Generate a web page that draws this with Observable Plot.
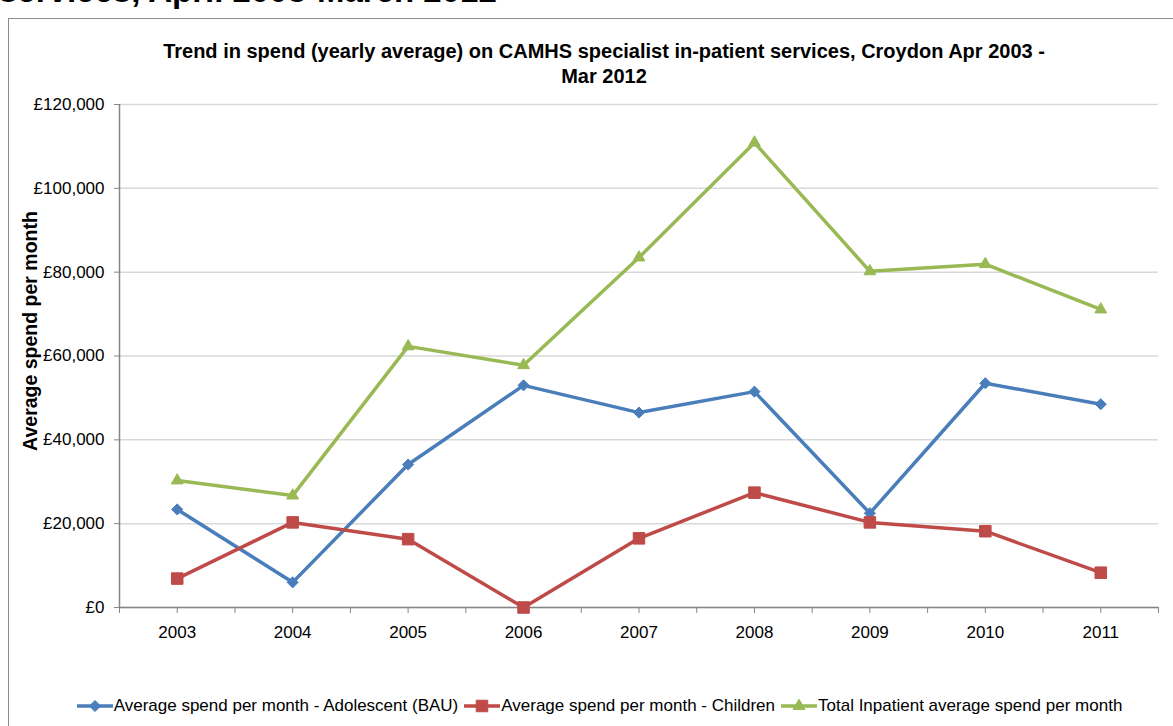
<!DOCTYPE html>
<html>
<head>
<meta charset="utf-8">
<script src="https://cdn.jsdelivr.net/npm/d3@7"></script>
<script src="https://cdn.jsdelivr.net/npm/@observablehq/plot@0.6"></script>
<style>
  html, body { margin: 0; padding: 0; background: #fff; width: 1173px; height: 726px; overflow: hidden; }
  body { font-family: "Liberation Sans", Arial, sans-serif; position: relative; }
  #heading { position: absolute; left: -1px; top: -28px; font-size: 33px; font-weight: bold; white-space: nowrap; color: #000; }
  #box { position: absolute; left: 8px; top: 18px; width: 1300px; height: 800px; border: 1px solid #8c8c8c; }
  #title { position: absolute; left: 0; width: 1208px; top: 39px; text-align: center; font-size: 20px; font-weight: bold; line-height: 25px; color: #000; }
  #ylabel { position: absolute; left: 30px; top: 331px; transform: translate(-50%, -50%) rotate(-90deg); font-size: 19.5px; font-weight: bold; white-space: nowrap; color: #000; }
  #chart { position: absolute; left: 0; top: 0; }
  #legend { position: absolute; top: 696px; left: 0; width: 1199px; display: flex; justify-content: center; font-size: 17px; color: #000; white-space: nowrap; }
  .item { display: flex; align-items: center; margin: 0 3px; }
  .item svg { margin-right: 1px; }
</style>
</head>
<body>
<div id="box"></div>
<div id="heading">services, April 2003-March 2012</div>
<div id="title">Trend in spend (yearly average) on CAMHS specialist in-patient services, Croydon Apr 2003 -<br>Mar 2012</div>
<div id="chart"></div>
<div id="ylabel">Average spend per month</div>
<div id="legend"></div>
<script>
const years = [2003, 2004, 2005, 2006, 2007, 2008, 2009, 2010, 2011];
const adolescent = [23400, 6000, 34100, 53000, 46500, 51500, 22500, 53500, 48500];
const children = [6900, 20300, 16300, 0, 16500, 27400, 20300, 18200, 8300];
const total = [30300, 26700, 62300, 57800, 83500, 110900, 80200, 81900, 71100];
const yTicks = [0, 20000, 40000, 60000, 80000, 100000, 120000];
const seriesNames = [
  "Average spend per month - Adolescent (BAU)",
  "Average spend per month - Children",
  "Total Inpatient average spend per month"
];
const seriesColors = ["#4A7EBB", "#BE4B48", "#98B954"];
const seriesSymbols = ["diamond2", "square", "triangle"];
const seriesR = [5, 6.5, 4.4];

const seriesValues = [adolescent, children, total];
const rows = [];
seriesValues.forEach((vals, i) => {
  vals.forEach((v, j) => rows.push({series: seriesNames[i], year: years[j], value: v, idx: i}));
});
const boundaries = d3.range(years.length + 1).map(i => years[0] - 0.5 + i);
const fmt = d => "£" + d3.format(",")(d);

const marks = [
  Plot.gridY(yTicks, {stroke: "#d9d9d9", strokeOpacity: 1, strokeWidth: 1.5}),
  Plot.axisY(yTicks, {tickSize: 5, tickPadding: 10, tickFormat: fmt, fontSize: 17, stroke: "#868686", fill: "#000", label: null}),
  Plot.axisX(years, {tickSize: 6, tickPadding: 12, tickFormat: d => String(d), fontSize: 17, stroke: "#868686", fill: "#000", label: null}),
  Plot.axisX(boundaries, {tickSize: 6, tickFormat: () => "", stroke: "#868686", label: null}),
  Plot.ruleX([boundaries[0]], {stroke: "#868686", strokeWidth: 1.5}),
  Plot.ruleY([0], {stroke: "#868686", strokeWidth: 1.5})
];
seriesNames.forEach((name, i) => {
  const data = rows.filter(r => r.idx === i);
  marks.push(Plot.line(data, {x: "year", y: "value", stroke: seriesColors[i], strokeWidth: 3.5, strokeLinejoin: "round"}));
});
seriesNames.forEach((name, i) => {
  const data = rows.filter(r => r.idx === i);
  marks.push(Plot.dot(data, {x: "year", y: "value", symbol: () => seriesSymbols[i], r: seriesR[i], fill: seriesColors[i], stroke: seriesColors[i], strokeWidth: 1}));
});

const chart = Plot.plot({
  width: 1173,
  height: 726,
  marginLeft: 119,
  marginRight: 15,
  marginTop: 104,
  marginBottom: 119,
  style: {fontFamily: "'Liberation Sans', Arial, sans-serif", fontSize: "17px", background: "transparent", color: "#000"},
  x: {type: "linear", domain: [boundaries[0], boundaries[boundaries.length - 1]]},
  y: {domain: [0, 120000]},
  symbol: {type: "identity"},
  marks
});
document.getElementById("chart").appendChild(chart);

const legend = document.getElementById("legend");
const symPath = {
  diamond2: d3.symbol(d3.symbolDiamond2, Math.PI * 25)(),
  square: d3.symbol(d3.symbolSquare, Math.PI * 6.5 * 6.5)(),
  triangle: d3.symbol(d3.symbolTriangle, Math.PI * 4.4 * 4.4)()
};
seriesNames.forEach((name, i) => {
  const item = document.createElement("div");
  item.className = "item";
  item.innerHTML = `<svg width="36" height="16"><line x1="0" x2="36" y1="8" y2="8" stroke="${seriesColors[i]}" stroke-width="3.5"/><path d="${symPath[seriesSymbols[i]]}" transform="translate(18,8)" fill="${seriesColors[i]}" stroke="${seriesColors[i]}"/></svg><span>${name}</span>`;
  legend.appendChild(item);
});
</script>
</body>
</html>
